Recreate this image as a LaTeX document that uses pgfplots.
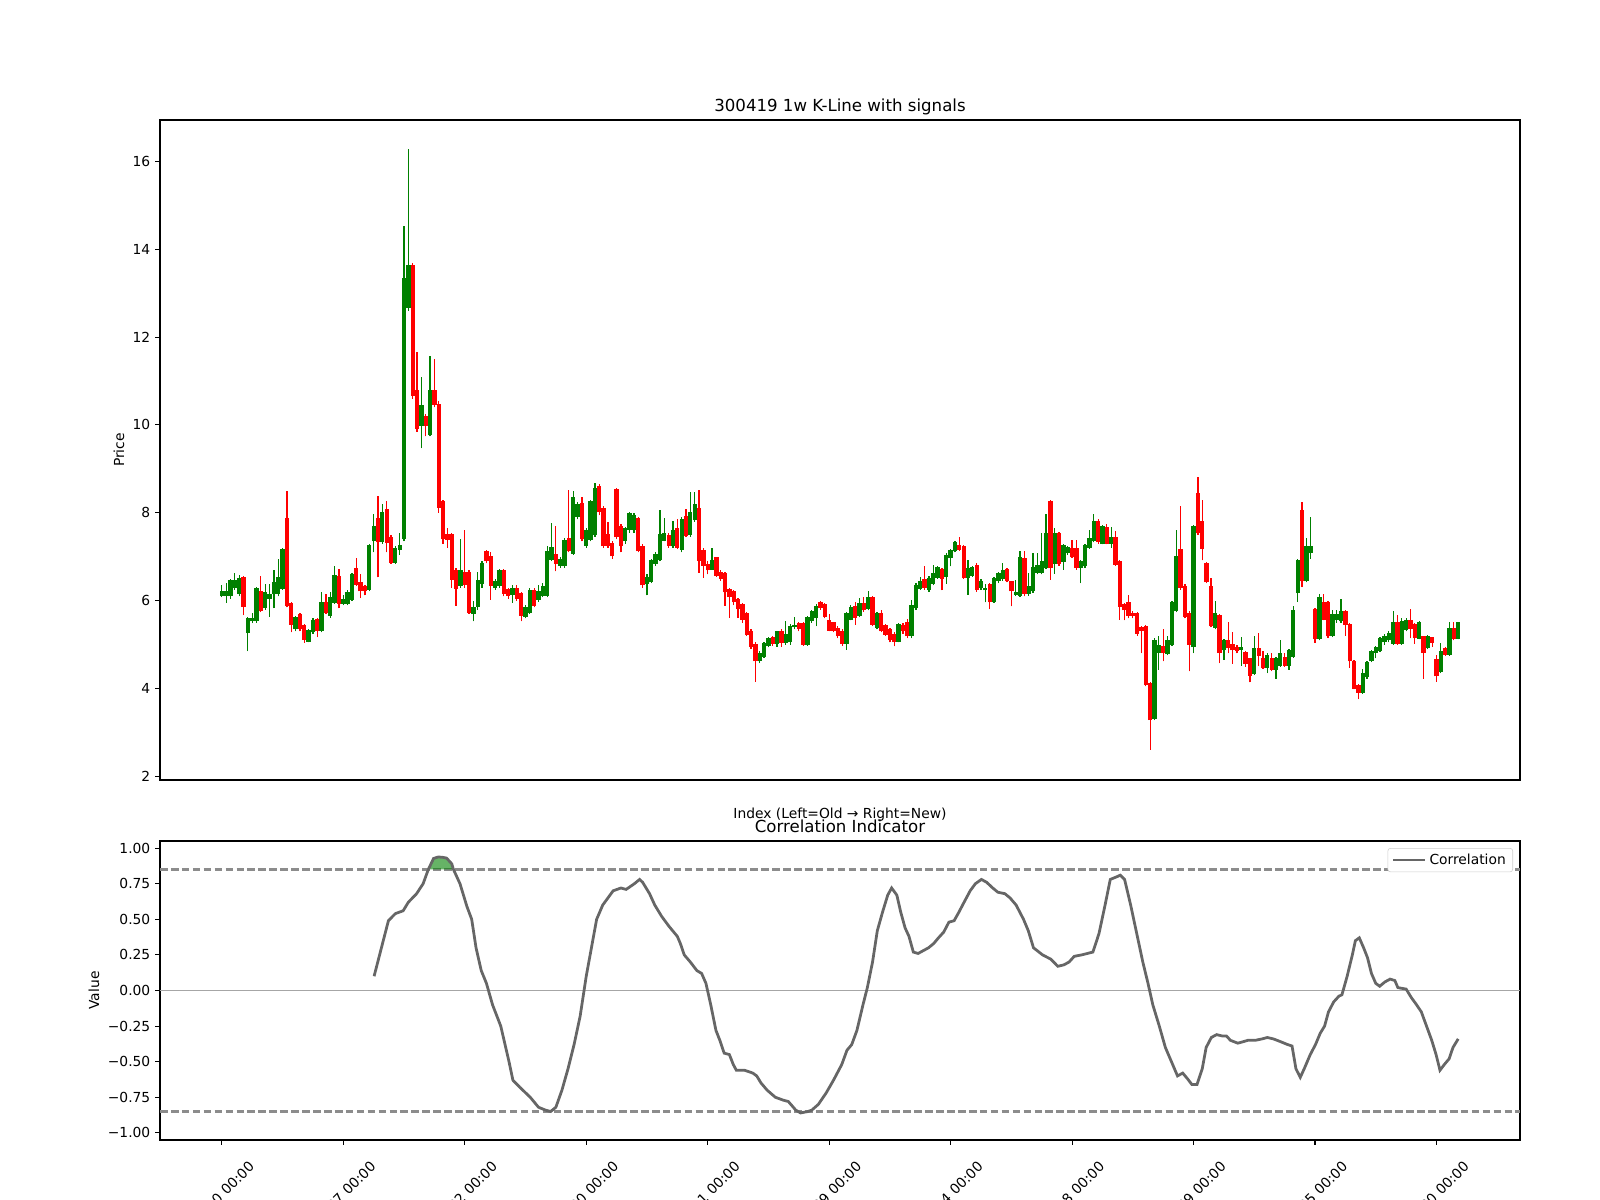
\documentclass[border=0pt]{standalone}
\usepackage{fontspec}
\setmainfont{DejaVu Sans}
\usepackage{pgfplots}
\usepackage{pgfplotstable}
\pgfplotsset{compat=1.18}
\definecolor{mplgreen}{HTML}{008000}
\definecolor{mplred}{HTML}{FF0000}
\definecolor{corrgray}{HTML}{666666}

\pgfplotstableread{
i o h l c
0 6.10 6.36 6.08 6.21
1 6.10 6.40 5.95 6.21
2 6.10 6.50 6.05 6.47
3 6.29 6.64 6.25 6.47
4 6.16 6.59 6.10 6.52
6 5.26 5.63 4.85 5.61
7 5.53 5.73 5.49 5.60
8 5.53 6.32 5.50 6.29
10 5.83 6.39 5.80 6.19
11 6.04 6.39 5.64 6.16
12 6.16 6.71 5.83 6.42
13 6.16 6.96 6.10 6.54
14 6.27 7.20 6.25 7.18
17 5.36 5.66 5.30 5.64
20 5.07 5.36 5.05 5.34
21 5.28 5.60 5.25 5.57
23 5.30 6.19 5.28 5.98
25 5.66 6.19 5.61 6.08
26 5.95 6.78 5.93 6.58
28 5.93 6.12 5.90 6.05
29 5.93 6.25 5.90 6.20
30 6.02 6.62 6.00 6.60
34 6.25 7.30 6.22 7.27
35 7.35 7.98 7.10 7.71
37 7.33 8.20 7.30 8.02
40 6.86 7.25 6.84 7.20
41 7.15 7.54 7.05 7.27
42 7.41 14.52 7.35 13.34
43 12.66 16.27 12.60 13.65
46 9.98 11.10 9.47 10.46
48 9.78 11.58 9.74 10.80
55 6.33 7.41 6.30 6.69
58 5.70 6.00 5.53 5.85
59 5.86 6.66 5.80 6.46
60 6.39 6.90 6.30 6.86
63 6.30 6.50 6.25 6.45
64 6.33 6.72 6.30 6.69
67 6.14 6.35 5.95 6.29
70 5.64 5.90 5.60 5.86
71 5.73 6.30 5.70 6.25
73 6.02 6.35 5.98 6.21
74 6.11 6.40 6.08 6.33
75 6.11 7.24 6.08 7.12
76 6.93 7.77 6.90 7.22
78 6.80 7.00 6.75 6.95
79 6.78 7.42 6.75 7.39
81 7.07 8.50 7.05 8.36
82 7.90 8.25 7.85 8.20
84 7.25 7.65 7.20 7.61
85 7.39 8.30 7.35 8.28
86 7.50 8.69 7.45 8.56
93 7.35 7.68 7.30 7.65
94 7.62 8.02 7.55 8.00
95 7.60 8.00 7.55 7.95
98 6.38 6.60 6.12 6.55
99 6.42 6.95 6.40 6.92
100 6.84 7.10 6.80 7.07
101 6.93 8.07 6.90 7.52
102 7.37 7.88 7.35 7.55
104 7.24 7.82 7.20 7.60
106 7.16 7.90 7.10 7.86
108 7.50 8.48 7.45 8.03
109 7.84 8.48 7.80 8.20
113 6.71 7.21 6.70 6.92
124 4.62 4.85 4.58 4.81
125 4.73 5.06 4.70 5.04
126 4.96 5.18 4.94 5.15
128 5.02 5.32 4.95 5.30
130 5.04 5.53 5.00 5.25
131 5.05 5.46 5.00 5.43
132 5.40 5.62 5.35 5.45
135 5.00 5.65 4.98 5.63
136 5.53 5.80 5.50 5.76
137 5.60 5.92 5.42 5.89
144 5.02 5.75 4.88 5.72
145 5.57 5.91 5.55 5.86
147 5.66 6.06 5.62 5.95
149 5.81 6.21 5.78 6.08
151 5.38 5.75 5.35 5.72
156 5.07 5.50 5.05 5.48
159 5.19 6.02 5.15 5.91
160 5.83 6.40 5.80 6.36
161 6.27 6.55 6.25 6.44
163 6.25 6.57 6.20 6.52
164 6.39 6.82 6.35 6.64
165 6.52 6.80 6.50 6.77
167 6.54 7.08 6.39 7.05
168 6.97 7.18 6.78 7.16
169 7.12 7.35 7.10 7.33
172 6.52 6.93 6.14 6.74
173 6.57 6.80 6.55 6.77
175 6.30 6.50 6.25 6.45
176 6.24 6.39 5.96 6.30
178 5.96 6.55 5.95 6.52
179 6.44 6.65 6.40 6.63
180 6.49 6.86 6.45 6.69
183 6.14 6.48 6.11 6.20
184 6.11 7.14 6.09 6.99
186 6.16 6.63 6.11 6.34
187 6.21 7.08 6.18 6.77
188 6.64 7.08 6.60 6.82
189 6.63 7.54 6.60 6.90
190 6.74 7.98 6.72 7.53
192 6.84 7.65 6.61 7.54
194 6.87 7.30 6.71 7.27
195 7.08 7.25 7.05 7.22
198 6.74 6.92 6.40 6.90
199 6.78 7.30 6.75 7.27
200 7.20 7.62 7.18 7.43
201 7.35 7.98 7.33 7.81
203 7.30 7.72 7.28 7.69
205 7.30 7.68 7.20 7.46
215 3.31 5.15 3.28 5.11
216 4.82 5.19 4.43 5.00
218 4.79 5.19 4.76 5.11
219 5.00 6.00 4.98 5.98
220 5.76 7.62 5.74 7.02
224 4.95 7.73 4.81 7.71
229 5.38 6.00 5.35 5.73
231 4.87 5.13 4.66 5.11
235 4.88 5.17 4.52 4.95
238 4.34 5.20 4.32 4.92
241 4.47 4.80 4.35 4.77
243 4.43 4.72 4.22 4.69
244 4.51 5.10 4.50 4.81
246 4.51 4.90 4.43 4.87
247 4.72 5.87 4.70 5.80
248 6.17 6.95 5.98 6.92
250 6.44 7.43 6.42 7.24
251 7.08 7.90 6.95 7.24
253 5.13 6.16 5.10 6.08
256 5.19 5.80 5.17 5.70
257 5.55 5.80 5.50 5.70
258 5.53 6.04 5.50 5.76
263 3.90 4.44 3.88 4.35
264 4.26 4.62 4.22 4.60
265 4.62 4.87 4.60 4.85
266 4.82 4.97 4.69 4.95
267 4.85 5.17 4.83 5.15
268 5.05 5.25 5.00 5.20
269 5.10 5.32 5.05 5.26
270 5.02 5.76 5.00 5.51
272 5.02 5.61 5.00 5.53
273 5.34 5.60 5.30 5.57
276 5.14 5.53 5.12 5.51
278 4.92 5.23 4.90 5.19
281 4.37 5.04 4.35 4.85
283 4.77 5.51 4.75 5.38
285 5.14 5.52 5.12 5.51
}\up

\pgfplotstableread{
i o h l c
5 6.54 6.56 5.67 5.86
9 6.21 6.57 5.74 5.76
15 7.88 8.49 5.85 5.89
16 5.95 5.97 5.28 5.45
18 5.70 5.73 5.30 5.36
19 5.44 5.46 5.04 5.11
22 5.58 5.60 5.17 5.30
24 5.97 6.16 5.70 5.73
27 6.57 6.73 5.83 5.93
31 6.74 6.97 6.34 6.36
32 6.42 6.61 6.06 6.21
33 6.33 6.36 6.12 6.21
36 7.88 8.39 6.53 7.33
38 8.09 8.28 7.10 7.31
39 7.46 7.50 6.84 6.86
44 13.65 13.69 10.60 10.67
45 10.80 11.66 9.85 9.91
47 10.21 10.25 9.74 9.98
49 10.80 11.51 10.40 10.46
50 10.48 10.55 8.00 8.11
51 8.28 8.30 7.30 7.40
52 7.52 7.65 7.20 7.39
53 7.52 7.55 6.30 6.48
54 6.69 6.75 5.89 6.27
56 6.65 7.60 6.30 6.36
57 6.65 6.70 5.70 5.73
61 7.12 7.15 6.85 6.90
62 7.02 7.10 6.02 6.33
65 6.69 6.72 6.10 6.16
66 6.27 6.30 6.05 6.11
68 6.29 6.35 6.00 6.04
69 6.17 6.20 5.53 5.66
72 6.25 6.28 5.85 5.89
77 7.07 7.69 6.67 6.84
80 7.43 8.53 7.10 7.12
83 8.22 8.37 7.35 7.40
87 8.60 8.65 7.95 8.01
88 8.11 8.15 7.20 7.24
89 7.52 7.80 7.20 7.24
90 7.31 7.35 6.95 7.01
91 8.54 8.56 7.40 7.44
92 7.71 7.75 7.10 7.24
96 7.88 7.90 7.10 7.12
97 7.25 7.30 6.30 6.35
103 7.50 7.55 7.20 7.25
105 7.65 7.85 7.18 7.20
107 7.93 8.09 7.45 7.48
110 8.11 8.51 6.64 6.90
111 7.16 7.21 6.52 6.80
112 6.84 6.90 6.60 6.69
114 6.99 7.00 6.55 6.57
115 6.65 6.70 6.45 6.50
116 6.63 6.65 5.89 6.19
117 6.27 6.30 5.61 6.08
118 6.21 6.25 5.90 5.96
119 6.04 6.06 5.61 5.81
120 5.93 5.95 5.50 5.57
121 5.72 5.75 5.20 5.23
122 5.32 5.35 4.90 4.95
123 5.02 5.05 4.16 4.62
127 5.17 5.20 4.98 5.02
129 5.30 5.35 4.95 5.04
133 5.49 5.52 5.30 5.36
134 5.50 5.52 4.98 5.00
138 5.98 6.00 5.80 5.83
139 5.93 5.95 5.60 5.64
140 5.57 5.70 5.30 5.32
141 5.51 5.51 5.28 5.30
142 5.38 5.42 5.15 5.19
143 5.30 5.35 4.98 5.02
146 5.89 5.96 5.45 5.61
148 5.95 6.08 5.75 5.78
150 6.08 6.10 5.42 5.45
152 5.72 5.80 5.28 5.30
153 5.45 5.48 5.20 5.23
154 5.36 5.38 5.05 5.11
155 5.25 5.28 4.96 5.07
157 5.45 5.50 5.25 5.30
158 5.51 5.58 5.15 5.19
162 6.49 6.80 6.25 6.29
166 6.72 6.75 6.24 6.49
170 7.27 7.44 7.14 7.16
171 7.25 7.27 6.50 6.52
174 6.82 6.85 6.20 6.24
177 6.39 6.40 5.81 5.96
181 6.72 6.75 6.42 6.44
182 6.44 6.45 5.87 6.21
185 6.97 7.14 6.10 6.16
191 8.26 8.30 6.48 6.74
193 7.54 7.56 6.80 6.84
196 7.20 7.39 6.97 6.99
197 7.20 7.39 6.70 6.74
202 7.82 7.85 7.30 7.33
204 7.68 7.75 7.28 7.30
206 7.46 7.58 6.80 6.82
207 6.90 6.93 5.57 5.86
208 5.92 5.95 5.55 5.78
209 5.96 6.14 5.60 5.66
210 5.73 5.76 5.60 5.66
211 5.73 5.75 5.20 5.25
212 5.40 5.42 4.81 5.30
213 5.43 5.45 4.05 4.09
214 4.13 4.15 2.61 3.28
217 4.98 5.36 4.62 4.81
221 7.18 8.16 6.25 6.29
222 6.33 6.39 5.60 5.64
223 5.73 5.76 4.39 5.00
225 8.45 8.81 7.50 7.53
226 7.81 8.30 6.92 7.18
227 6.86 6.88 6.40 6.42
228 6.33 6.52 5.40 5.42
230 5.68 5.70 4.58 4.81
232 5.10 5.51 4.81 4.92
233 5.02 5.28 4.57 4.87
234 4.95 5.00 4.80 4.85
236 4.83 4.85 4.50 4.57
237 4.69 4.70 4.14 4.29
239 4.92 5.26 4.51 4.75
240 4.69 4.85 4.45 4.47
242 4.69 4.81 4.40 4.43
245 4.72 4.81 4.50 4.51
249 8.07 8.24 6.31 6.44
252 5.81 5.83 5.04 5.13
254 5.97 6.16 5.55 5.57
255 5.97 6.00 5.15 5.19
259 5.76 5.78 5.20 5.45
260 5.48 5.50 4.47 4.62
261 4.62 4.65 3.98 3.99
262 4.09 4.10 3.76 3.91
271 5.51 5.68 5.00 5.02
274 5.57 5.81 5.15 5.36
275 5.47 5.50 5.02 5.15
277 5.19 5.20 4.22 4.82
279 5.17 5.18 4.95 5.04
280 4.67 4.77 4.16 4.28
282 4.92 4.95 4.75 4.77
284 5.38 5.51 5.10 5.14
}\down

\pgfplotsset{
  mpl/.style={
    scale only axis, width=13.6in, anchor=south west,
    xmin=-14.25, xmax=299.25,
    axis line style={line width=0.8pt},
    tick align=outside, major tick length=3.5pt,
    tick style={line width=0.8pt, black},
    xtick pos=left, ytick pos=left,
    tick label style={font=\fontsize{10}{12}\selectfont},
    label style={font=\fontsize{10}{12}\selectfont},
    title style={font=\fontsize{12}{14.4}\selectfont, at={(0.5,1)}, anchor=base, yshift=0pt, inner sep=0pt},
  },
  wick/.style={only marks, mark=*, mark size=0pt, mark options={draw=none, fill=none}, forget plot, error bars/.cd, y dir=plus, y explicit, error mark=none, error bar style={draw=#1, line width=0.9pt}},
  body/.style={only marks, mark=*, mark size=0pt, mark options={draw=none, fill=none}, forget plot, error bars/.cd, y dir=plus, y explicit, error mark=none, error bar style={draw=#1, line width=3.1pt}},
}

\begin{document}
\begin{tikzpicture}
\useasboundingbox (0,0) rectangle (16in,12in);
\begin{axis}[mpl, at={(1.6in,4.2in)}, height=6.6in,
  ymin=1.92, ymax=16.94,
  xtick=\empty,
  ytick={2,4,6,8,10,12,14,16}, yticklabels={2,4,6,8,10,12,14,16},
  title={300419 1w K-Line with signals},
  ylabel={Price}, ylabel style={at={(axis description cs:-0.0302,0.5)}, anchor=center},
  xlabel={Index (Left=Old → Right=New)}, xlabel style={at={(axis description cs:0.5,0)}, anchor=center, yshift=-0.347in},
]
\addplot[wick=mplgreen] table[x=i, y=l, y error expr=\thisrow{h}-\thisrow{l}] {\up};
\addplot[wick=mplred] table[x=i, y=l, y error expr=\thisrow{h}-\thisrow{l}] {\down};
\addplot[body=mplgreen] table[x=i, y=o, y error expr=\thisrow{c}-\thisrow{o}] {\up};
\addplot[body=mplred] table[x=i, y=c, y error expr=\thisrow{o}-\thisrow{c}] {\down};
\end{axis}

\begin{axis}[mpl, at={(1.6in,0.6in)}, height=2.99in,
  ymin=-1.05, ymax=1.05,
  xtick={0,28,56,84,112,140,168,196,224,252,280},
  xticklabels={2019-04-10 00:00,2019-11-27 00:00,2020-06-22 00:00,2021-01-20 00:00,2021-08-11 00:00,2022-03-09 00:00,2022-09-14 00:00,2023-04-18 00:00,2023-11-29 00:00,2024-06-25 00:00,2025-01-30 00:00},
  xticklabel style={xshift=0.26in, yshift=-0.087in, rotate=45, anchor=north east},
  ytick={-1,-0.75,-0.5,-0.25,0,0.25,0.5,0.75,1},
  yticklabels={−1.00,−0.75,−0.50,−0.25,0.00,0.25,0.50,0.75,1.00},
  title={Correlation Indicator},
  ylabel={Value}, ylabel style={at={(axis description cs:-0.0485,0.5)}, anchor=center},
  legend style={at={(1,1)}, anchor=north east, xshift=-0.07in, yshift=-0.07in, draw=black!20, rounded corners=2pt, fill=white, font=\fontsize{10}{12}\selectfont, inner xsep=3pt, inner ysep=2pt},
  legend image code/.code={\draw[#1] (0in,0in) -- (0.32in,0in);},
]
\addplot[forget plot, black!35, line width=1.2pt] coordinates {(-14.25,0) (299.25,0)};
\addplot[forget plot, black!45, line width=1.5pt, dash pattern=on 5.5pt off 2.4pt] coordinates {(-14.25,0.85) (299.25,0.85)};
\addplot[forget plot, black!45, line width=1.5pt, dash pattern=on 5.5pt off 2.4pt] coordinates {(-14.25,-0.85) (299.25,-0.85)};
\addplot[forget plot, fill=mplgreen, fill opacity=0.6, draw=none] coordinates {(47.6,0.85) (48.8,0.927) (49.9,0.938) (51.0,0.935) (51.8,0.93) (53.0,0.89) (53.4,0.85)} -- cycle;
\addplot[corrgray, line width=2pt] coordinates {
(35.1,0.10) (38.4,0.49) (40.0,0.54) (41.8,0.56) (43.0,0.62) (44.9,0.68) (46.4,0.75) (47.6,0.85) (48.8,0.927) (49.9,0.938) (51.0,0.935) (51.8,0.93) (53.0,0.89) (53.4,0.85) (54.9,0.75) (56.5,0.59) (57.6,0.50) (58.6,0.30) (59.8,0.14) (61.0,0.05) (62.4,-0.10) (64.3,-0.25) (66.2,-0.50) (67.1,-0.63) (68.7,-0.68) (71.1,-0.75) (73.0,-0.82) (74.6,-0.84) (75.8,-0.85) (77.0,-0.82) (78.4,-0.70) (79.8,-0.55) (81.2,-0.38) (82.6,-0.18) (84.0,0.10) (85.2,0.30) (86.4,0.50) (87.8,0.60) (90.2,0.70) (92.0,0.72) (93.2,0.71) (95.1,0.75) (96.3,0.78) (97.0,0.76) (98.6,0.68) (99.8,0.60) (101.4,0.52) (103.1,0.45) (105.0,0.38) (105.7,0.33) (106.6,0.25) (108.0,0.20) (109.5,0.14) (110.6,0.12) (111.6,0.05) (112.7,-0.10) (113.9,-0.28) (114.8,-0.35) (115.8,-0.44) (117.0,-0.45) (117.9,-0.52) (118.6,-0.56) (120.5,-0.56) (122.4,-0.58) (123.3,-0.60) (124.3,-0.65) (125.7,-0.70) (127.6,-0.75) (129.4,-0.77) (130.6,-0.78) (132.3,-0.84) (133.4,-0.86) (135.1,-0.85) (136.0,-0.84) (137.5,-0.80) (139.3,-0.72) (141.0,-0.63) (142.9,-0.52) (144.1,-0.42) (145.2,-0.38) (146.4,-0.28) (147.8,-0.10) (148.8,0.02) (150.0,0.20) (151.1,0.42) (152.3,0.55) (153.5,0.67) (154.4,0.72) (155.6,0.67) (156.5,0.55) (157.5,0.44) (158.4,0.38) (159.4,0.27) (160.5,0.26) (161.7,0.28) (162.9,0.30) (164.1,0.33) (165.2,0.37) (166.4,0.41) (167.6,0.48) (168.8,0.49) (169.9,0.55) (171.1,0.62) (172.5,0.70) (173.7,0.75) (175.1,0.78) (176.3,0.76) (177.7,0.72) (178.9,0.69) (180.5,0.68) (181.7,0.65) (183.1,0.60) (184.8,0.50) (185.9,0.42) (187.1,0.30) (189.2,0.25) (191.1,0.22) (192.7,0.17) (194.1,0.18) (195.3,0.20) (196.5,0.24) (198.2,0.25) (200.8,0.27) (202.2,0.40) (203.6,0.60) (204.8,0.78) (206.4,0.80) (207.1,0.81) (208.1,0.78) (209.5,0.60) (210.9,0.40) (212.3,0.20) (213.5,0.05) (214.6,-0.10) (216.1,-0.25) (217.5,-0.40) (218.9,-0.50) (220.3,-0.60) (221.5,-0.58) (222.6,-0.62) (223.6,-0.66) (224.8,-0.66) (226.0,-0.55) (226.9,-0.40) (228.1,-0.33) (229.3,-0.31) (230.7,-0.32) (231.6,-0.32) (232.5,-0.35) (234.2,-0.37) (235.4,-0.36) (236.5,-0.35) (238.2,-0.35) (239.8,-0.34) (241.0,-0.33) (242.4,-0.34) (244.1,-0.36) (245.7,-0.38) (246.7,-0.39) (247.6,-0.55) (248.6,-0.61) (249.5,-0.55) (250.9,-0.45) (252.1,-0.38) (253.2,-0.30) (254.2,-0.25) (255.1,-0.15) (256.3,-0.08) (257.5,-0.04) (258.2,-0.03) (259.4,0.10) (260.6,0.25) (261.3,0.35) (262.2,0.37) (263.2,0.30) (264.1,0.23) (265.0,0.12) (266.0,0.05) (266.9,0.03) (268.1,0.06) (269.3,0.08) (270.4,0.07) (271.1,0.02) (273.0,0.01) (274.2,-0.05) (275.4,-0.10) (276.5,-0.15) (277.7,-0.25) (278.9,-0.35) (279.9,-0.45) (280.8,-0.56) (281.8,-0.52) (282.9,-0.48) (283.8,-0.40) (285.0,-0.34)
};
\addlegendentry{Correlation}
\end{axis}
\end{tikzpicture}
\end{document}
